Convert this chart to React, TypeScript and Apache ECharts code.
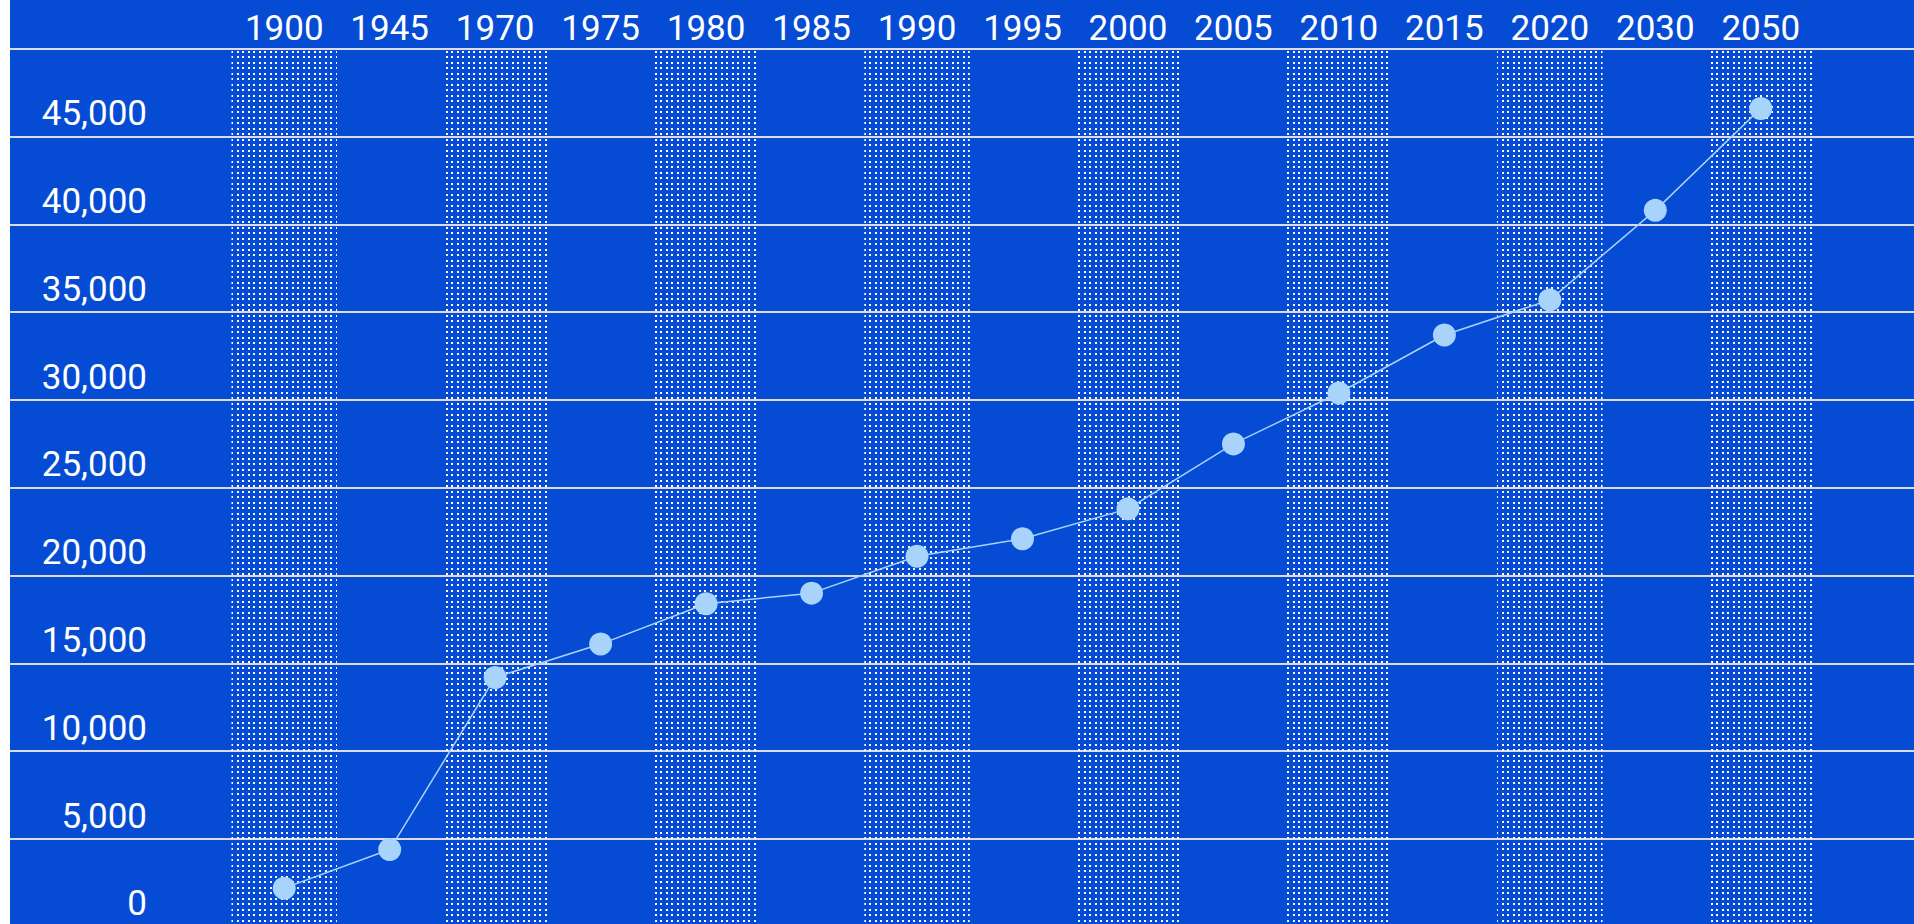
import React, { useEffect, useRef } from 'react';
import * as echarts from 'echarts';

// Categories (top axis) and the series values
const years = ['1900', '1945', '1970', '1975', '1980', '1985', '1990', '1995', '2000', '2005', '2010', '2015', '2020', '2030', '2050'];
const values = [2200, 4400, 14200, 16100, 18400, 19000, 21100, 22100, 23800, 27500, 30400, 33700, 35700, 40800, 46600];

// Value axis
const yMin = 0;
const yMax = 50000;
const yStep = 5000;

const BG = '#054bd4';
const POINT = '#a8d4fc';
const GRIDLINE = '#dcdce4';
const FONT = 'Roboto';

function makeDots(): HTMLCanvasElement {
  const c = document.createElement('canvas');
  c.width = 22;
  c.height = 22;
  const ctx = c.getContext('2d')!;
  const pos = [0, 6, 11, 17];
  ctx.fillStyle = '#ffffff';
  for (const x of pos) for (const y of pos) ctx.fillRect(x + 1, y + 1, 2, 2);
  return c;
}

export default function App() {
  const ref = useRef<HTMLDivElement>(null);
  useEffect(() => {
    if (!ref.current) return;
    const chart = echarts.init(ref.current, undefined, { renderer: 'svg' });
    const dots = makeDots();
    chart.setOption({
      animation: false,
      backgroundColor: BG,
      grid: [
        { left: 0, right: 0, top: 48.8, height: 878, outerBoundsMode: 'none', containLabel: false },
        { left: 221.5, right: 100.5, top: 48.8, height: 878, outerBoundsMode: 'none', containLabel: false },
      ],
      xAxis: [
        { gridIndex: 0, type: 'value', show: false },
        {
          gridIndex: 1,
          type: 'category',
          data: years,
          position: 'top',
          boundaryGap: true,
          axisLine: { show: false },
          axisTick: { show: false },
          axisLabel: { color: '#ffffff', fontFamily: FONT, fontSize: 35, margin: 3 },
          splitLine: { show: false },
          splitArea: {
            show: true,
            areaStyle: { color: [{ image: dots, repeat: 'repeat' }, 'rgba(0,0,0,0)'] },
          },
        },
      ],
      yAxis: [
        {
          gridIndex: 0,
          type: 'value',
          min: yMin,
          max: yMax,
          interval: yStep,
          axisLine: { show: false },
          axisTick: { show: false },
          splitLine: { show: true, lineStyle: { color: GRIDLINE, width: 2 } },
          axisLabel: {
            inside: true,
            align: 'right',
            verticalAlign: 'bottom',
            lineHeight: 46,
            margin: 137,
            color: '#ffffff',
            fontFamily: FONT,
            fontSize: 35,
            showMaxLabel: false,
            formatter: (v: number) => v.toLocaleString('en-US'),
          },
        },
        {
          gridIndex: 1,
          type: 'value',
          min: yMin,
          max: yMax,
          interval: yStep,
          axisLine: { show: false },
          axisTick: { show: false },
          axisLabel: { show: false },
          splitLine: { show: true, lineStyle: { color: GRIDLINE, width: 2 } },
        },
      ],
      series: [
        {
          type: 'line',
          xAxisIndex: 1,
          yAxisIndex: 1,
          data: values,
          symbol: 'circle',
          symbolSize: 23,
          itemStyle: { color: POINT },
          lineStyle: { color: POINT, width: 1.5 },
          z: 5,
        },
      ],
    });
    return () => chart.dispose();
  }, []);
  return <div ref={ref} style={{ position: 'absolute', left: 10, top: 0, width: 1904, height: 924 }} />;
}
